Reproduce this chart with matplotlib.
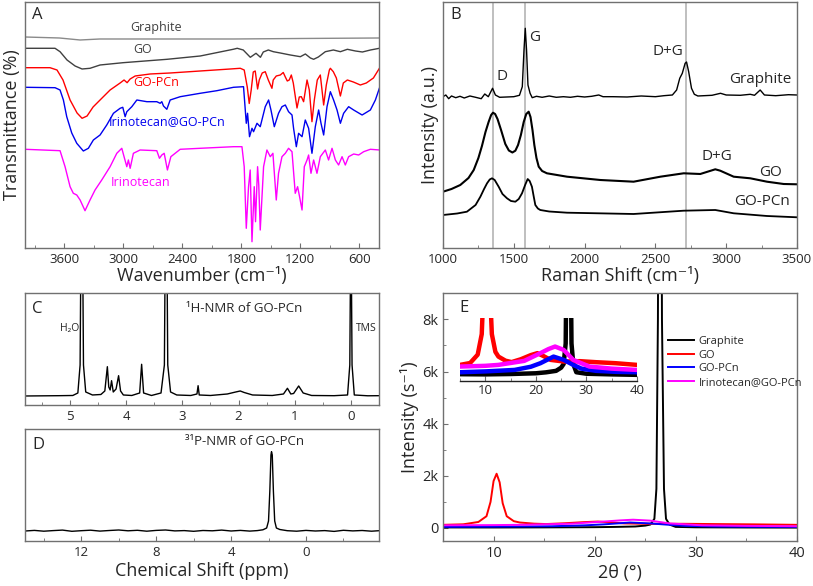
import matplotlib
matplotlib.use("Agg")
import matplotlib.pyplot as plt
from matplotlib.ticker import MultipleLocator

plt.rcParams['font.family'] = ['Open Sans', 'DejaVu Sans']

# ---------- A: FTIR (wavenumber, transmittance a.u.) ----------
wn_graphite = [4000, 3650, 3440, 3240, 1880, 1200, 400]
t_graphite = [211, 210, 208, 209, 209, 209.5, 210]

wn_go = [4000, 3695, 3644, 3573, 3491, 3420, 3339, 3237, 3003, 2555, 2218, 1883, 1842, 1781, 1709,
         1651, 1606, 1577, 1526, 1475, 1404, 1302, 1200, 1149, 1098, 1065, 1017, 946, 864, 793,
         722, 640, 569, 487, 396]
t_go = [199.7, 199.7, 196.3, 188, 182, 179, 179.7, 183, 185.3, 188.7, 192, 198.7, 199.7, 198, 190.7,
        194.7, 190.7, 196, 198, 196.3, 195, 193, 191.3, 194, 190, 188.7, 191, 196.3, 198, 196.3,
        198.7, 197, 196, 198, 199.7]

wn_gopcn = [4000, 3746, 3675, 3614, 3542, 3471, 3420, 3369, 3308, 3237, 3135, 3033, 2993, 2962, 2931,
            2880, 2728, 2524, 2219, 1913, 1811, 1771, 1740, 1720, 1700, 1679, 1659, 1635, 1618, 1588,
            1557, 1526, 1489, 1476, 1445, 1404, 1374, 1353, 1333, 1313, 1292, 1272, 1234, 1211, 1190,
            1167, 1132, 1109, 1082, 1058, 1028, 997, 963, 936, 905, 895, 865, 834, 793, 763,
            722, 661, 590, 529, 457, 396]
t_gopcn = [180.3, 180.3, 178, 168, 148, 135, 129.7, 132, 141, 148, 158, 165, 168, 165.3, 169,
           172, 174, 175, 177, 179, 179.7, 178, 161, 144.5, 158, 176, 177, 159, 168, 175,
           176.3, 168, 159.7, 168, 172, 173, 175.5, 171, 167, 168, 173, 165, 140, 151, 151.3,
           146.3, 168, 158, 126.3, 148, 168, 173, 143, 163, 178, 179.7, 176.3, 170, 152, 165,
           168, 166, 163, 165, 170, 179.7]

wn_irgo = [4000, 3695, 3644, 3610, 3576, 3525, 3474, 3407, 3356, 3305, 3237, 3169, 3101, 3033, 3006,
           2982, 2965, 2914, 2863, 2761, 2660, 2626, 2609, 2592, 2558, 2524, 2422, 2219, 2049, 1880,
           1778, 1750, 1737, 1717, 1692, 1676, 1641, 1608, 1557, 1523, 1499, 1465, 1422, 1387, 1353,
           1320, 1285, 1269, 1241, 1218, 1183, 1150, 1116, 1082, 1048, 1014, 990, 963, 929, 895,
           862, 827, 793, 760, 709, 658, 572, 488, 437, 393]
t_irgo = [160.7, 160.3, 158, 148, 131.3, 115, 104.7, 97, 99.7, 108, 113, 123, 134.7, 139.7, 140.7,
          131.3, 136.3, 141.3, 148, 146.3, 146.3, 144.7, 146.3, 142, 138.7, 148, 151.3, 154.7, 157.3, 160.7,
          161.3, 124.7, 134.7, 111.3, 119.7, 116.3, 124.7, 121.3, 141.3, 148, 138, 121.3, 134.7, 141.3, 143,
          136.3, 133, 119.7, 101.3, 114.7, 111.3, 128, 119.7, 94.7, 121.3, 138, 124.7, 113, 141.3, 156.3,
          148, 138, 124.7, 134.7, 141.3, 138, 133, 138, 148, 160.7]

wn_irino = [4000, 3644, 3593, 3542, 3509, 3474, 3440, 3390, 3339, 3288, 3220, 3135, 3067, 3016, 2993,
            2965, 2949, 2931, 2898, 2830, 2660, 2633, 2609, 2585, 2552, 2517, 2422, 2219, 1880, 1794,
            1771, 1750, 1727, 1710, 1692, 1669, 1656, 1635, 1623, 1608, 1574, 1540, 1506, 1479, 1445,
            1422, 1387, 1353, 1320, 1285, 1252, 1228, 1208, 1183, 1160, 1132, 1116, 1092, 1065, 1031,
            997, 946, 913, 878, 844, 811, 776, 743, 709, 658, 607, 556, 488, 393]
t_irino = [98.7, 97.3, 81.3, 61.3, 54.7, 53, 48, 37.3, 48, 58, 68, 81.3, 94.7, 99.7, 91.3,
           81.3, 88, 79.7, 94.7, 98, 97.3, 89.7, 93, 94.7, 78, 91.3, 98.7, 99.7, 101.3, 101.3,
           81.3, 19.7, 61.3, 78, 6.3, 61.3, 26.3, 81.3, 63, 18, 81.3, 98, 91.3, 94.7, 48,
           74.7, 91.3, 94.7, 99.7, 96.3, 54.7, 61.3, 51.3, 38, 81.3, 88, 93, 74.7, 88, 74.7,
           91.3, 98, 88, 99.7, 88, 83, 91.3, 83, 91.3, 94, 93, 96.3, 98.7, 98]

# ---------- B: Raman ----------
shift_graphite = [1000, 1020, 1040, 1060, 1090, 1120, 1150, 1190, 1230, 1270, 1295, 1320, 1350, 1370,
                  1400, 1450, 1500, 1540, 1560, 1572, 1581, 1590, 1600, 1615, 1630, 1660, 1700, 1750,
                  1800, 1850, 1900, 1950, 2000, 2050, 2100, 2130, 2200, 2300, 2400, 2500, 2560, 2620,
                  2650, 2672, 2690, 2710, 2720, 2735, 2755, 2775, 2800, 2900, 2960, 3000, 3100, 3170,
                  3200, 3240, 3270, 3350, 3440, 3500]
i_graphite = [151.3, 153, 149.3, 152, 150.3, 151.7, 150, 152, 150.7, 149.3, 154, 151.3, 159.7, 153,
              150.7, 151, 151.3, 152.7, 161.3, 198, 219.7, 198, 163, 154.7, 150.3, 151.7, 150.7, 152,
              150.7, 151.3, 150.7, 151.7, 151, 151.7, 153, 151.3, 151.3, 151, 152, 151.3, 152.3, 153,
              158, 169.7, 174.7, 184.7, 186, 176.3, 159.7, 153.7, 152, 152.7, 154.7, 153, 152.7, 153.7,
              152.7, 158, 153, 152.3, 153.3, 153]

shift_go = [1000, 1060, 1122, 1180, 1217, 1250, 1275, 1300, 1322, 1340, 1353, 1368, 1385, 1410, 1440,
            1465, 1490, 1511, 1530, 1550, 1570, 1588, 1605, 1618, 1632, 1645, 1660, 1676, 1700, 1734,
            1876, 2111, 2346, 2535, 2700, 2817, 2923, 2958, 3053, 3170, 3288, 3406, 3500]
i_go = [56.3, 59, 63, 70, 78, 90, 102, 116, 126, 133, 135.3, 134, 129, 118, 104,
        97.5, 95.5, 97.3, 103, 113, 126, 134, 136.3, 131, 118, 103, 90, 81.3, 77, 74.7,
        71.3, 68, 66.3, 71.3, 74.7, 74, 78.7, 77.3, 71.3, 69.7, 66.3, 64, 63.7]

shift_gopcn = [1000, 1100, 1169, 1230, 1264, 1290, 1311, 1330, 1346, 1365, 1393, 1420, 1452, 1480,
               1511, 1535, 1558, 1580, 1598, 1612, 1628, 1640, 1652, 1670, 1687, 1750, 1876, 2346,
               2700, 2923, 3053, 3288, 3500]
i_gopcn = [33, 34.5, 36.3, 43, 51.3, 59, 64.7, 68.5, 69.7, 68, 61.3, 54, 49.7, 47,
           46.3, 49, 54.7, 63, 69, 67, 61.3, 52, 43, 39.5, 38, 36.5, 35.3, 34,
           37.3, 38, 34.7, 32, 30.7]

raman_lines = [1350, 1580, 2715]

# ---------- C: 1H-NMR ----------
ppm_h = [5.8, 5.2, 4.95, 4.86, 4.82, 4.80, 4.78, 4.76, 4.72, 4.6, 4.45, 4.38, 4.335, 4.31, 4.285,
         4.26, 4.23, 4.18, 4.135, 4.10, 4.05, 3.9, 3.76, 3.725, 3.69, 3.55, 3.38, 3.32, 3.30, 3.28,
         3.26, 3.21, 3.1, 2.85, 2.74, 2.72, 2.70, 2.5, 2.2, 2.05, 1.97, 1.9, 1.75, 1.4, 1.2,
         1.13, 1.07, 1.02, 0.93, 0.85, 0.7, 0.3, 0.06, 0.02, 0.0, -0.02, -0.06, -0.3, -0.5]
int_h = [9, 9.3, 9.5, 12, 40, 200, 200, 40, 13, 10, 10.5, 14, 38.3, 18, 15,
         24.3, 13, 16, 29.3, 14, 10, 9.5, 12, 40.7, 12, 9.5, 12, 40, 200, 200,
         40, 13, 10, 9.5, 11, 19.3, 10, 9.5, 11, 13, 14, 12.5, 10, 9.5, 11,
         16.7, 11, 11.5, 19, 12, 9.5, 9.3, 10, 40, 200, 40, 10, 9.2, 9.3]

# ---------- D: 31P-NMR ----------
ppm_p = [15.0, 14.5, 14.0, 13.5, 13.0, 12.5, 12.0, 11.5, 11.0, 10.5, 10.0, 9.5, 9.0, 8.5, 8.0,
         7.5, 7.0, 6.5, 6.0, 5.5, 5.0, 4.5, 4.0, 3.5, 3.0, 2.6, 2.3, 2.1, 2.0, 1.93,
         1.87, 1.84, 1.80, 1.74, 1.67, 1.58, 1.4, 1.0, 0.5, 0.0, -0.5, -1.0, -1.5, -2.0, -2.5,
         -3.0, -3.5, -3.9]
int_p = [10, 10.6, 9.8, 10.4, 10.9, 9.7, 10.3, 10.8, 9.9, 10.5, 11.0, 10.2, 10.7, 9.8, 10.6,
         11.0, 10.1, 10.4, 9.7, 10.5, 10.2, 10.9, 10.0, 10.6, 9.9, 10.4, 11.2, 13, 20, 50,
         86, 89.3, 86, 50, 20, 13, 11.5, 10.3, 9.8, 10.6, 10.0, 10.4, 9.6, 10.7, 10.1,
         10.5, 9.8, 10.3]

# ---------- E: XRD ----------
theta_gr = [5, 10, 15, 20, 22, 24, 25, 25.5, 25.9, 26.1, 26.25, 26.45, 26.65, 26.85, 27.05, 27.4,
            28, 30, 35, 40]
xrd_gr = [20, 18, 22, 30, 40, 56, 90, 130, 350, 1500, 8000, 30000, 8000, 1500, 350, 130,
          41, 25, 18, 13]
theta_go = [5, 7, 8.5, 9.3, 9.7, 10.0, 10.3, 10.6, 10.9, 11.3, 12, 12.6, 14, 15.2, 17, 19, 20.3,
            21.5, 22.9, 25.5, 28.7, 31.9, 35.8, 40]
xrd_go = [120, 140, 230, 450, 1000, 1800, 2080, 1750, 950, 450, 260, 209, 165, 150, 180, 225, 246,
          215, 174, 156, 160, 149, 138, 120]
theta_pc = [5, 10, 15.8, 19, 20.9, 23.5, 25.5, 27.4, 29, 31.9, 36, 40]
xrd_pc = [41, 50, 66, 100, 138, 209, 174, 120, 80, 56, 45, 41]
theta_ir = [5, 10, 12.6, 17.7, 20.9, 22.5, 23.8, 25.5, 27.4, 30.6, 35, 40]
xrd_ir = [102, 110, 120, 163, 246, 290, 317, 281, 174, 102, 80, 66]

xrd_names = ['Graphite', 'GO', 'GO-PCn', 'Irinotecan@GO-PCn']
xrd_colors = ['black', '#ff0000', '#0000ff', '#ff00ff']

FRAME = '#707070'
TXT = '#262626'


def style(ax, left_ticks=False):
    for s in ax.spines.values():
        s.set_color(FRAME)
        s.set_linewidth(1.0)
    ax.tick_params(which='both', direction='in', colors=FRAME, labelcolor=TXT,
                   labelsize=9.5, top=False, right=False)
    ax.tick_params(which='major', length=3.5)
    ax.tick_params(which='minor', length=2.5)
    if not left_ticks:
        ax.set_yticks([])


fig = plt.figure(figsize=(8.13, 5.86), dpi=100)

# ----- A -----
axA = fig.add_axes([0.0308, 0.5768, 0.4354, 0.4198])
axA.plot(wn_graphite, t_graphite, color='#8a8a8a', lw=1.0)
axA.plot(wn_go, t_go, color='#404040', lw=1.0)
axA.plot(wn_gopcn, t_gopcn, color='#ff0000', lw=1.0)
axA.plot(wn_irgo, t_irgo, color='#0000ee', lw=1.0)
axA.plot(wn_irino, t_irino, color='#ff00ff', lw=1.0)
axA.set_xlim(4000, 400)
axA.set_ylim(0, 246)
axA.set_xticks([3600, 3000, 2400, 1800, 1200, 600])
axA.xaxis.set_minor_locator(MultipleLocator(300))
style(axA)
axA.set_xlabel('Wavenumber (cm⁻¹)', fontsize=13, color=TXT, labelpad=1)
axA.set_ylabel('Transmittance (%)', fontsize=13, color=TXT, labelpad=3)
axA.text(0.02, 0.947, 'A', transform=axA.transAxes, fontsize=12, color=TXT, va='center')
axA.text(2667, 220.5, 'Graphite', color='#404040', fontsize=9, ha='center', va='center')
axA.text(2802, 198, 'GO', color='#404040', fontsize=9, ha='center', va='center')
axA.text(2667, 165, 'GO-PCn', color='#ff0000', fontsize=9, ha='center', va='center')
axA.text(2558, 126, 'Irinotecan@GO-PCn', color='#0000ee', fontsize=9, ha='center', va='center')
axA.text(2822, 65, 'Irinotecan', color='#ff00ff', fontsize=9, ha='center', va='center')

# ----- B -----
axB = fig.add_axes([0.5449, 0.5768, 0.4354, 0.4198])
for x in raman_lines:
    axB.axvline(x, color='#b4b4b4', lw=1.2, zorder=1)
axB.plot(shift_graphite, i_graphite, color='black', lw=1.0)
axB.plot(shift_go, i_go, color='black', lw=1.5)
axB.plot(shift_gopcn, i_gopcn, color='black', lw=1.3)
axB.set_xlim(1000, 3500)
axB.set_ylim(0, 246)
axB.set_xticks([1000, 1500, 2000, 2500, 3000, 3500])
axB.xaxis.set_minor_locator(MultipleLocator(250))
style(axB)
axB.set_xlabel('Raman Shift (cm⁻¹)', fontsize=13, color=TXT, labelpad=1)
axB.set_ylabel('Intensity (a.u.)', fontsize=13, color=TXT, labelpad=3)
axB.text(0.02, 0.947, 'B', transform=axB.transAxes, fontsize=12, color=TXT, va='center')
axB.text(1650, 210.7, 'G', fontsize=11, color=TXT, ha='center', va='center')
axB.text(1415, 171.3, 'D', fontsize=11, color=TXT, ha='center', va='center')
axB.text(2591, 196.3, 'D+G', fontsize=11, color=TXT, ha='center', va='center')
axB.text(3239, 168, 'Graphite', fontsize=11, color=TXT, ha='center', va='center')
axB.text(2933, 91.3, 'D+G', fontsize=11, color=TXT, ha='center', va='center')
axB.text(3314, 75.3, 'GO', fontsize=11, color=TXT, ha='center', va='center')
axB.text(3251, 46.3, 'GO-PCn', fontsize=11, color=TXT, ha='center', va='center')

# ----- C -----
axC = fig.add_axes([0.0308, 0.3089, 0.4354, 0.1911])
axC.plot(ppm_h, int_h, color='black', lw=1.0)
axC.set_xlim(5.8, -0.5)
axC.set_ylim(0, 112)
axC.set_xticks([5, 4, 3, 2, 1, 0])
axC.xaxis.set_minor_locator(MultipleLocator(0.5))
style(axC)
axC.text(0.02, 0.86, 'C', transform=axC.transAxes, fontsize=12, color=TXT, va='center')
axC.text(5.01, 76, 'H₂O', fontsize=7.5, color=TXT, ha='center', va='center')
axC.text(-0.27, 76, 'TMS', fontsize=7.5, color=TXT, ha='center', va='center')
axC.text(1.9, 96, '¹H-NMR of GO-PCn', fontsize=9.5, color=TXT, ha='center', va='center')

# ----- D -----
axD = fig.add_axes([0.0308, 0.0768, 0.4354, 0.1911])
axD.plot(ppm_p, int_p, color='black', lw=1.0)
axD.set_xlim(15, -3.9)
axD.set_ylim(0, 112)
axD.set_xticks([12, 8, 4, 0])
axD.xaxis.set_minor_locator(MultipleLocator(2))
style(axD)
axD.set_xlabel('Chemical Shift (ppm)', fontsize=13, color=TXT, labelpad=2)
axD.text(0.02, 0.86, 'D', transform=axD.transAxes, fontsize=12, color=TXT, va='center')
axD.text(3.26, 99.3, '³¹P-NMR of GO-PCn', fontsize=9.5, color=TXT, ha='center', va='center')

# ----- E -----
xrd_theta = [theta_gr, theta_go, theta_pc, theta_ir]
xrd_vals = [xrd_gr, xrd_go, xrd_pc, xrd_ir]

axE = fig.add_axes([0.5449, 0.0768, 0.4354, 0.4227])
for th, v, c, n in zip(xrd_theta, xrd_vals, xrd_colors, xrd_names):
    axE.plot(th, v, color=c, lw=1.4, label=n)
axE.set_xlim(5, 40)
axE.set_ylim(-500, 9000)
axE.set_xticks([10, 20, 30, 40])
axE.xaxis.set_minor_locator(MultipleLocator(5))
axE.set_yticks([0, 2000, 4000, 6000, 8000])
axE.set_yticklabels(['0', '2k', '4k', '6k', '8k'])
axE.yaxis.set_minor_locator(MultipleLocator(1000))
style(axE, left_ticks=True)
axE.tick_params(labelsize=10.5)
axE.set_xlabel('2θ (°)', fontsize=13, color=TXT, labelpad=2)
axE.set_ylabel('Intensity (s⁻¹)', fontsize=13, color=TXT, labelpad=2)
axE.text(0.045, 0.94, 'E', transform=axE.transAxes, fontsize=12, color=TXT, va='center')
axE.legend(loc='upper left', bbox_to_anchor=(0.615, 0.86), frameon=False, fontsize=8,
           handlelength=2.3, labelspacing=0.25, handletextpad=0.4, borderpad=0.2,
           labelcolor=TXT)

# inset
axI = fig.add_axes([0.5658, 0.3503, 0.2177, 0.1065])
axI.patch.set_alpha(0)
for th, v, c in zip(xrd_theta, xrd_vals, xrd_colors):
    axI.plot(th, v, color=c, lw=3.2)
axI.set_xlim(5, 40)
axI.set_ylim(-50, 620)
axI.set_xticks([10, 20, 30, 40])
axI.xaxis.set_minor_locator(MultipleLocator(5))
style(axI)
for s in ['left', 'top', 'right']:
    axI.spines[s].set_visible(False)
axI.spines['bottom'].set_color('#202020')
axI.tick_params(labelsize=9.5, pad=2)

fig.savefig('out.png', dpi=100)
